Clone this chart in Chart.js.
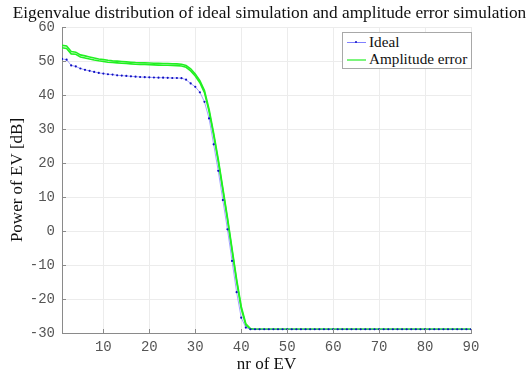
<!DOCTYPE html>
<html>
<head>
<meta charset="utf-8">
<script src="https://cdn.jsdelivr.net/npm/chart.js@4.4.1/dist/chart.umd.min.js"></script>
<style>
  html, body { margin: 0; padding: 0; background: #fff; }
  #wrap { position: relative; width: 529px; height: 376px; }
  #legend {
    position: absolute; left: 342px; top: 32px; width: 128px; height: 35px;
    background: #fff; border: 1px solid #a8a8a8;
    font-family: "Liberation Serif", "DejaVu Serif", serif; font-size: 15.2px; color: #111;
    line-height: 18px; white-space: nowrap; overflow: hidden;
  }
  #legend .row { display: flex; align-items: center; height: 17.5px; }
  #legend .swatch { width: 19px; height: 10px; margin: 0 3px 0 4px; position: relative; flex: none; }
  #legend .swatch span { position: absolute; left: 0; right: 0; top: 5px; }
  #legend .dot { position: absolute; left: 8px; top: 4px; width: 2px; height: 2px; background: #1010c0; border-radius: 1px; }
</style>
</head>
<body>
<div id="wrap">
  <canvas id="chart" width="529" height="376"></canvas>
  <div id="legend">
    <div class="row"><div class="swatch"><span style="border-top:1px solid #8080ff"></span><div class="dot"></div></div>Ideal</div>
    <div class="row"><div class="swatch"><span style="border-top:2px solid #7cf57c"></span></div>Amplitude error</div>
  </div>
</div>
<script>
const titleText = "Eigenvalue distribution of ideal simulation and amplitude error simulation";
const xTitle = "nr of EV";
const yTitle = "Power of EV [dB]";

const xTicks = [10, 20, 30, 40, 50, 60, 70, 80, 90];
const yMin = -30;
const yMax = 60;

const idealPower = [
  50.6, 50.4, 48.7, 48.4, 47.8, 47.4, 47.1, 46.8, 46.5, 46.3,
  46.1, 46.0, 45.8, 45.7, 45.6, 45.5, 45.4, 45.3, 45.25, 45.2,
  45.15, 45.1, 45.1, 45.05, 45.0, 45.0, 44.95, 44.5, 43.4, 42.4,
  40.8, 38.0, 33.1, 25.5, 17.7, 9.1, 0.5, -8.8, -18.0, -25.5,
  -28.4, -28.9, -28.9, -28.9, -28.9, -28.9, -28.9, -28.9, -28.9, -28.9,
  -28.9, -28.9, -28.9, -28.9, -28.9, -28.9, -28.9, -28.9, -28.9, -28.9,
  -28.9, -28.9, -28.9, -28.9, -28.9, -28.9, -28.9, -28.9, -28.9, -28.9,
  -28.9, -28.9, -28.9, -28.9, -28.9, -28.9, -28.9, -28.9, -28.9, -28.9,
  -28.9, -28.9, -28.9, -28.9, -28.9, -28.9, -28.9, -28.9, -28.9, -28.9
];

// upper and lower edge of the green band (several amplitude error runs)
const amplitudeErrorUpper = [
  54.6, 54.4, 52.8, 52.6, 51.8, 51.5, 51.2, 50.9, 50.6, 50.4,
  50.2, 50.05, 49.95, 49.85, 49.75, 49.65, 49.55, 49.5, 49.45, 49.4,
  49.35, 49.3, 49.25, 49.25, 49.2, 49.15, 49.05, 48.65, 47.7, 46.2,
  44.2, 41.3, 35.8, 28.8, 21.1, 12.6, 4.0, -5.2, -14.2, -22.2,
  -27.3, -28.7, -28.9, -28.9, -28.9, -28.9, -28.9, -28.9, -28.9, -28.9,
  -28.9, -28.9, -28.9, -28.9, -28.9, -28.9, -28.9, -28.9, -28.9, -28.9,
  -28.9, -28.9, -28.9, -28.9, -28.9, -28.9, -28.9, -28.9, -28.9, -28.9,
  -28.9, -28.9, -28.9, -28.9, -28.9, -28.9, -28.9, -28.9, -28.9, -28.9,
  -28.9, -28.9, -28.9, -28.9, -28.9, -28.9, -28.9, -28.9, -28.9, -28.9
];
const amplitudeErrorLower = [
  53.9, 53.7, 52.1, 52.0, 51.2, 50.9, 50.6, 50.3, 50.05, 49.85,
  49.65, 49.55, 49.45, 49.35, 49.25, 49.15, 49.05, 49.0, 48.95, 48.9,
  48.85, 48.8, 48.75, 48.75, 48.7, 48.65, 48.55, 48.15, 47.1, 45.6,
  43.6, 40.7, 35.2, 28.2, 20.5, 12.0, 3.4, -5.8, -14.8, -22.8,
  -27.7, -28.9, -28.9, -28.9, -28.9, -28.9, -28.9, -28.9, -28.9, -28.9,
  -28.9, -28.9, -28.9, -28.9, -28.9, -28.9, -28.9, -28.9, -28.9, -28.9,
  -28.9, -28.9, -28.9, -28.9, -28.9, -28.9, -28.9, -28.9, -28.9, -28.9,
  -28.9, -28.9, -28.9, -28.9, -28.9, -28.9, -28.9, -28.9, -28.9, -28.9,
  -28.9, -28.9, -28.9, -28.9, -28.9, -28.9, -28.9, -28.9, -28.9, -28.9
];

const toPoints = (values) => values.map((v, i) => ({ x: i + 1, y: v }));

const serif = "'Liberation Serif', 'DejaVu Serif', serif";
const mono = "'Liberation Mono', 'DejaVu Sans Mono', monospace";

// small inward tick marks like the original axes
const innerTicks = {
  id: "innerTicks",
  afterDraw(chart) {
    const { ctx, chartArea, scales } = chart;
    ctx.save();
    ctx.strokeStyle = "#8a8a8a";
    ctx.lineWidth = 1;
    ctx.beginPath();
    scales.x.ticks.forEach((t) => {
      const px = Math.round(scales.x.getPixelForValue(t.value)) + 0.5;
      ctx.moveTo(px, chartArea.bottom);
      ctx.lineTo(px, chartArea.bottom - 4);
    });
    scales.y.ticks.forEach((t) => {
      const py = Math.round(scales.y.getPixelForValue(t.value)) + 0.5;
      ctx.moveTo(chartArea.left, py);
      ctx.lineTo(chartArea.left + 4, py);
    });
    ctx.stroke();
    ctx.restore();
  },
};

// title centred on the whole figure, not only on the padded area
const figureTitle = {
  id: "figureTitle",
  afterDraw(chart) {
    const { ctx, width } = chart;
    ctx.save();
    ctx.fillStyle = "#111";
    ctx.font = "17.3px " + serif;
    ctx.textAlign = "center";
    ctx.textBaseline = "middle";
    ctx.fillText(titleText, width / 2 + 5, 13);
    ctx.restore();
  },
};

const greenLine = (label, values) => ({
  label,
  data: toPoints(values),
  borderColor: "#22f022",
  borderWidth: 1.6,
  pointRadius: 0,
  tension: 0,
});

new Chart(document.getElementById("chart").getContext("2d"), {
  type: "line",
  data: {
    datasets: [
      {
        label: "Ideal",
        data: toPoints(idealPower),
        borderColor: "rgba(90,90,255,0.7)",
        borderWidth: 0.8,
        pointRadius: 1.1,
        pointBackgroundColor: "#1010c0",
        pointBorderWidth: 0,
        tension: 0,
      },
      greenLine("Amplitude error", amplitudeErrorUpper),
      greenLine("Amplitude error (lower)", amplitudeErrorLower),
    ],
  },
  plugins: [innerTicks, figureTitle],
  options: {
    responsive: false,
    animation: false,
    layout: { padding: { top: 27, right: 58, bottom: 0, left: 0 } },
    plugins: {
      legend: { display: false },
      tooltip: { enabled: false },
      title: { display: false },
    },
    scales: {
      x: {
        type: "linear",
        min: 1,
        max: 90,
        afterBuildTicks: (scale) => {
          scale.ticks = xTicks.map((v) => ({ value: v }));
        },
        afterFit: (scale) => {
          scale.height = 43;
        },
        grid: { color: "#ececec", drawTicks: false },
        border: { color: "#8a8a8a" },
        ticks: {
          color: "#555",
          font: { family: mono, size: 14 },
          padding: 6,
          maxRotation: 0,
        },
        title: {
          display: true,
          text: xTitle,
          color: "#111",
          font: { family: serif, size: 17 },
          padding: { top: 0, bottom: 1 },
        },
      },
      y: {
        min: yMin,
        max: yMax,
        afterFit: (scale) => {
          scale.width = 62;
        },
        grid: { color: "#ececec", drawTicks: false },
        border: { color: "#8a8a8a" },
        ticks: {
          stepSize: 10,
          color: "#555",
          font: { family: mono, size: 14 },
          padding: 7,
        },
        title: {
          display: true,
          text: yTitle,
          color: "#111",
          font: { family: serif, size: 17 },
          padding: { top: 7, bottom: 0 },
        },
      },
    },
  },
});
</script>
</body>
</html>
